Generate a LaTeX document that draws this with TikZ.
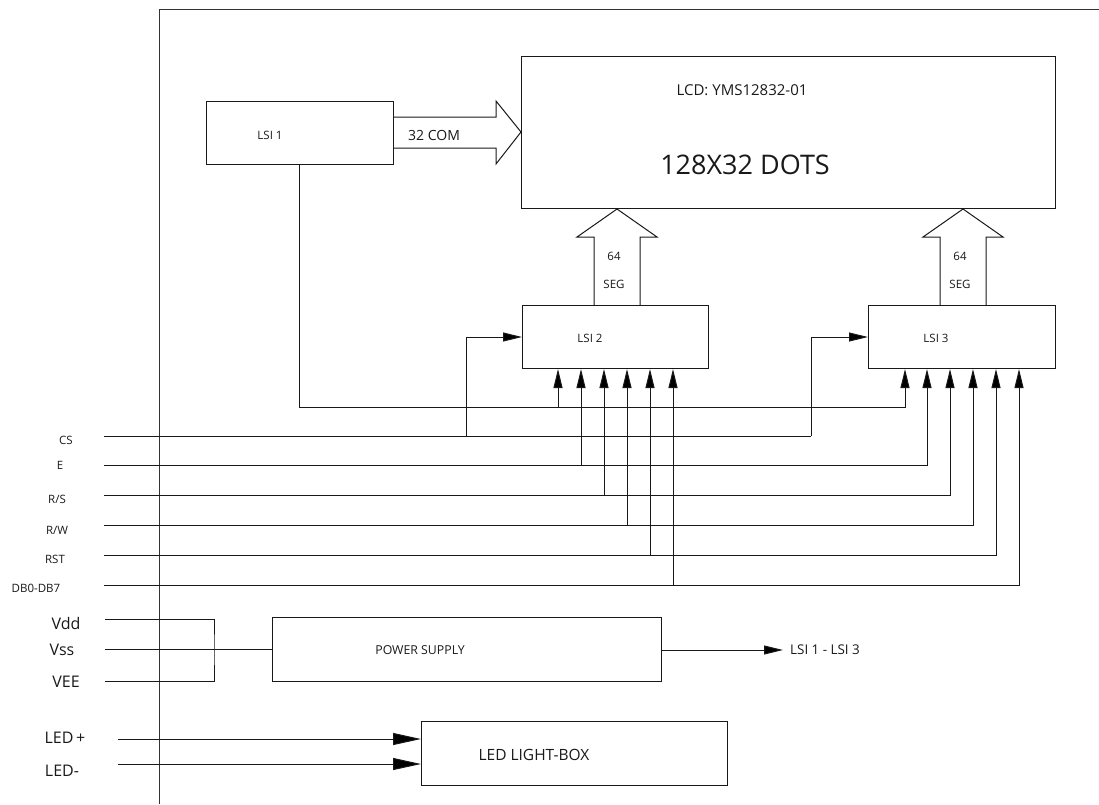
\documentclass[tikz,border=0pt]{standalone}
\usepackage{fontspec}
\setmainfont{Open Sans}
\usetikzlibrary{arrows.meta}

\begin{document}
\begin{tikzpicture}[
    x=1pt, y=-1pt,
    every node/.style={font=\fontsize{11.5}{13}\selectfont, text=black!90},
    % boxes
    block/.style={draw=black!90, line width=1pt, inner sep=0pt, anchor=north west},
    % text without a frame
    tag/.style={inner sep=0pt},
    bigtag/.style={inner sep=0pt, font=\fontsize{16}{18}\selectfont},
    % wide outlined arrows
    bus/.style={draw=black!90, line width=1pt, line join=miter},
    % lines
    wire/.style={draw=black!90, line width=1pt},
    pin/.style={wire, -{Triangle[length=19pt, width=9pt, fill=black]}},
    feed/.style={wire, -{Triangle[length=28pt, width=12pt, fill=black]}},
]
\useasboundingbox (0,0) rectangle (1099,804);

%% -- frame --
\draw[draw=black!80, line width=1pt] (159,804) -- (159,9) -- (1099,9);

%% -- blocks --
\node[block, minimum width=534pt, minimum height=152pt] (lcd) at (521,56) {};
\node[block, minimum width=187pt, minimum height=63pt] (lsia) at (206,101) {};
\node[block, minimum width=186pt, minimum height=63pt] (lsib) at (522,305) {};
\node[block, minimum width=187pt, minimum height=63pt] (lsic) at (868,305) {};
\node[block, minimum width=389pt, minimum height=64pt] (power) at (272,617) {};
\node[block, minimum width=306pt, minimum height=64pt] (light) at (421,721) {};

%% -- block texts --
\node[tag, font=\fontsize{15}{17}\selectfont] (lcdname) at (742,90) {LCD: YMS12832-01};
\node[tag, font=\fontsize{27}{31}\selectfont] (lcddots) at (745,165) {128X32 DOTS};
\node[tag] (lsiatxt) at (270,135) {LSI 1};
\node[tag] (lsibtxt) at (590,338) {LSI 2};
\node[tag] (lsictxt) at (936,338) {LSI 3};
\node[tag, font=\fontsize{12.3}{14}\selectfont] (powertxt) at (420,650) {POWER SUPPLY};
\node[tag, font=\fontsize{15.5}{17}\selectfont] (lighttxt) at (534,755) {LED LIGHT-BOX};

%% -- wide arrows --
\draw[bus] (lsia.east |- 0,117) -- (496,117) -- (496,101) -- (lcd.west |- 0,132)
    -- (496,164) -- (496,148) -- (lsia.east |- 0,148);
\node[tag, font=\fontsize{14}{16}\selectfont] (comtxt) at (434,135) {32 COM};

\foreach \n/\ax/\src in {b/617/lsib, c/963/lsic}{
    \draw[bus] (\ax-23,0 |- \src.north) -- (\ax-23,237) -- (\ax-40,237) -- (\ax,0 |- lcd.south)
        -- (\ax+40,237) -- (\ax+23,237) -- (\ax+23,0 |- \src.north);
    \node[tag] (num\n) at (\ax-3,256) {64};
    \node[tag] (seg\n) at (\ax-3,284) {SEG};
}

%% -- signals on the left --
\foreach \n/\txt/\tx/\sy/\ty/\bx/\cx in {
    e/E/60/465/465/581/927,
    rs/R\slash S/57/495/499/604/950,
    rw/R\slash W/57/525/530/627/973,
    rst/RST/55/555/559/650/996,
    db/DB0-DB7/36/585/588/673/1019}{
    \node[tag] (lab\n) at (\tx,\ty) {\txt};
    \coordinate (s\n) at (104,\sy);
    \draw[pin] (s\n) -| (\cx,0 |- lsic.south);
    \draw[pin] (\bx,\sy) -- (\bx,0 |- lsib.south);
}

% chip select
\node[tag] (labcs) at (66,440) {CS};
\coordinate (scs) at (104,436);
\coordinate (csb) at (466,436);
\coordinate (csc) at (811,436);
\draw[wire] (scs) -- (csc);
\draw[pin] (csb) |- (lsib.west |- 0,337);
\draw[pin] (csc) |- (lsic.west |- 0,337);

% common line from LSI 1
\coordinate (com) at (299,407);
\draw[pin] (lsia.south -| com) -- (com) -| (905,0 |- lsic.south);
\draw[pin] (558,407) -- (558,0 |- lsib.south);

%% -- supply --
\node[bigtag] (labvdd) at (66,623) {Vdd};
\node[bigtag] (labvss) at (62,650) {Vss};
\node[bigtag] (labvee) at (66,682) {VEE};
\coordinate (svdd) at (105,619);
\coordinate (svss) at (105,649);
\coordinate (svee) at (105,681);
\coordinate (join) at (214,649);
\draw[wire] (svdd) -| (join) |- (svee);
\draw[wire] (svss) -- (power.west |- svss);

\node[tag, anchor=west, font=\fontsize{13.4}{15}\selectfont] (labout) at (790,650) {LSI 1 - LSI 3};
\draw[pin, shorten >=7pt] (power.east |- labout) -- (labout.west);

%% -- LED --
\node[bigtag] (labplus) at (65,738) {LED\,+};
\node[bigtag] (labminus) at (62,771) {LED-};
\coordinate (splus) at (118,739);
\coordinate (sminus) at (118,764);
\draw[feed] (splus) -- (light.west |- splus);
\draw[feed] (sminus) -- (light.west |- sminus);

\end{tikzpicture}
\end{document}
